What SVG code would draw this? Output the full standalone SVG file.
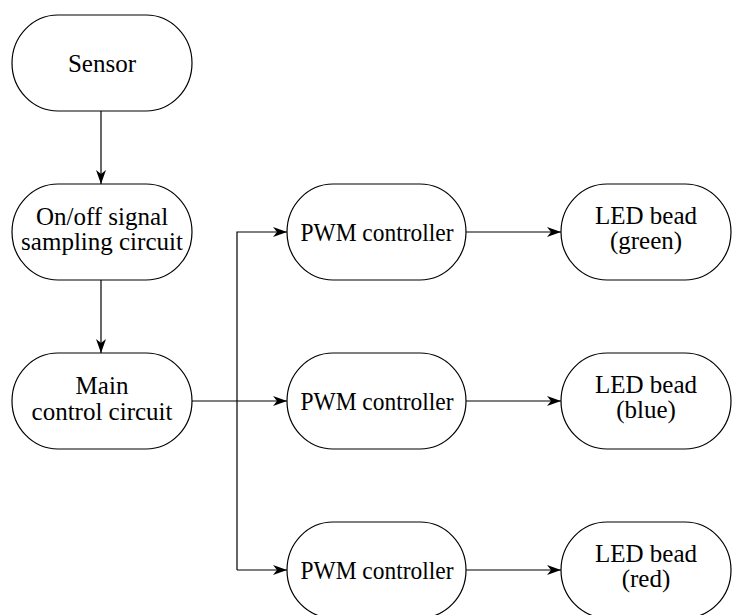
<svg xmlns="http://www.w3.org/2000/svg" width="732" height="615" viewBox="0 0 732 615">
<style>
.n{fill:#fff;stroke:#000;stroke-width:1.2}
.c{fill:none;stroke:#000;stroke-width:1.2}
text{font-family:"Liberation Serif","Tinos","Noto Serif","DejaVu Serif","Times New Roman",Times,serif;font-size:25px;text-anchor:middle;fill:#000}
</style>
<defs>
<marker id="a" viewBox="0 0 14 10" refX="14" refY="5" markerWidth="14" markerHeight="10" markerUnits="userSpaceOnUse" orient="auto">
<path d="M0,0 L14,5 L0,10 L4,5 Z" fill="#000"/>
</marker>
</defs>
<rect width="732" height="615" fill="#fff"/>
<g id="connectors">
<path class="c" d="M101,111 V184" marker-end="url(#a)"/>
<path class="c" d="M101,280 V353" marker-end="url(#a)"/>
<path class="c" d="M192,401 H287" marker-end="url(#a)"/>
<path class="c" d="M237,570 V232 H287" marker-end="url(#a)"/>
<path class="c" d="M237,570 H287" marker-end="url(#a)"/>
<path class="c" d="M466,232 H561" marker-end="url(#a)"/>
<path class="c" d="M466,401 H561" marker-end="url(#a)"/>
<path class="c" d="M466,570 H561" marker-end="url(#a)"/>
</g>
<g id="sensor">
<rect class="n" x="12" y="15" width="180" height="96" rx="46" ry="48"/>
<text x="102" y="72">Sensor</text>
</g>
<g id="sampling">
<rect class="n" x="12" y="184" width="180" height="96" rx="46" ry="48"/>
<text x="102" y="225">On/off signal</text>
<text x="102" y="250">sampling circuit</text>
</g>
<g id="main">
<rect class="n" x="12" y="353" width="180" height="96" rx="46" ry="48"/>
<text x="102" y="394">Main</text>
<text x="102" y="420">control circuit</text>
</g>
<g id="pwm1">
<rect class="n" x="287" y="184" width="179" height="96" rx="46" ry="48"/>
<text x="377" y="241" textLength="153" lengthAdjust="spacingAndGlyphs">PWM controller</text>
</g>
<g id="pwm2">
<rect class="n" x="287" y="353" width="179" height="96" rx="46" ry="48"/>
<text x="377" y="410" textLength="153" lengthAdjust="spacingAndGlyphs">PWM controller</text>
</g>
<g id="pwm3">
<rect class="n" x="287" y="522" width="179" height="96" rx="46" ry="48"/>
<text x="377" y="579" textLength="153" lengthAdjust="spacingAndGlyphs">PWM controller</text>
</g>
<g id="led-green">
<rect class="n" x="561" y="184" width="170" height="96" rx="46" ry="48"/>
<text x="646" y="224">LED bead</text>
<text x="646" y="249">(green)</text>
</g>
<g id="led-blue">
<rect class="n" x="561" y="353" width="170" height="96" rx="46" ry="48"/>
<text x="646" y="393">LED bead</text>
<text x="646" y="418">(blue)</text>
</g>
<g id="led-red">
<rect class="n" x="561" y="522" width="170" height="96" rx="46" ry="48"/>
<text x="646" y="562">LED bead</text>
<text x="646" y="587">(red)</text>
</g>
</svg>
